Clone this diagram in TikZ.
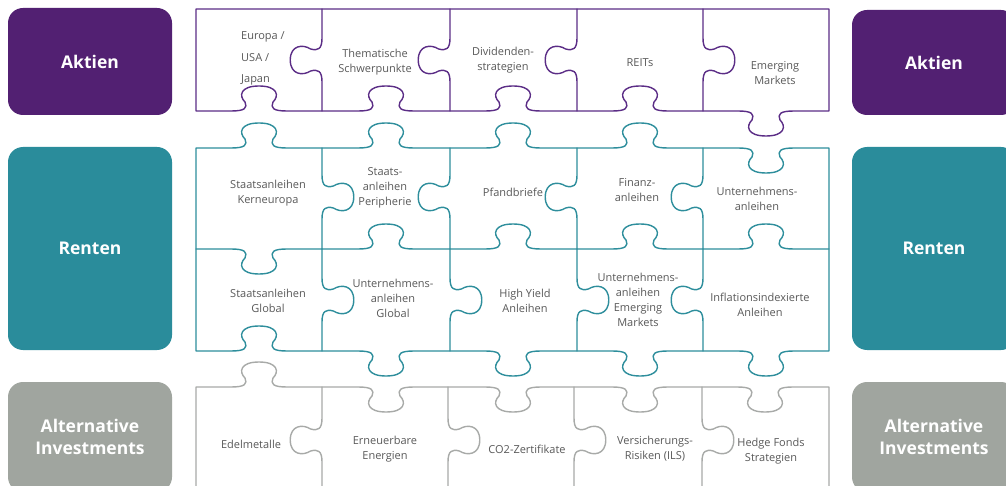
\documentclass[tikz,border=0pt]{standalone}
\usepackage{fontspec}
\setmainfont{Open Sans}
\definecolor{cAkt}{HTML}{522072}
\definecolor{cAktL}{HTML}{5B2D86}
\definecolor{cRen}{HTML}{2A8C9B}
\definecolor{cRenL}{HTML}{2E8E9C}
\definecolor{cAlt}{HTML}{A0A59F}
\definecolor{cAltL}{HTML}{A8AAA8}
\definecolor{txtgray}{HTML}{595959}
% horizontal edge with tab: cx, y, d (+1 down / -1 up), s (+1 left->right / -1 right->left)
\newcommand\HT[4]{%
 -- ({#1-28*(#4)},{#2}) .. controls ({#1-14*(#4)},{#2}) and ({#1-11.4*(#4)},{#2+3*(#3)}) .. ({#1-14*(#4)},{#2+9*(#3)})
 .. controls ({#1-20.3*(#4)},{#2+15*(#3)}) and ({#1-19*(#4)},{#2+25*(#3)}) .. ({#1},{#2+25*(#3)})
 .. controls ({#1+19*(#4)},{#2+25*(#3)}) and ({#1+20.3*(#4)},{#2+15*(#3)}) .. ({#1+14*(#4)},{#2+9*(#3)})
 .. controls ({#1+11.4*(#4)},{#2+3*(#3)}) and ({#1+14*(#4)},{#2}) .. ({#1+28*(#4)},{#2})}
% vertical edge with tab: x, cy, d (+1 right / -1 left), s (+1 downwards / -1 upwards)
\newcommand\VT[4]{%
 -- ({#1},{#2-22*(#4)}) .. controls ({#1},{#2-11*(#4)}) and ({#1+3.8*(#3)},{#2-9*(#4)}) .. ({#1+11.4*(#3)},{#2-11*(#4)})
 .. controls ({#1+19*(#3)},{#2-16*(#4)}) and ({#1+31.75*(#3)},{#2-15*(#4)}) .. ({#1+31.75*(#3)},{#2})
 .. controls ({#1+31.75*(#3)},{#2+15*(#4)}) and ({#1+19*(#3)},{#2+16*(#4)}) .. ({#1+11.4*(#3)},{#2+11*(#4)})
 .. controls ({#1+3.8*(#3)},{#2+9*(#4)}) and ({#1},{#2+11*(#4)}) .. ({#1},{#2+22*(#4)})}
\begin{document}
\begin{tikzpicture}[x=1pt,y=-1pt,
  pz/.style={line width=1.4pt,line join=round,line cap=round},
  hdr/.style={rounded corners=15pt,minimum width=164pt,inner sep=0pt,text=white,align=center,
    font=\fontsize{17.5}{22}\selectfont\bfseries},
  txt/.style={text=txtgray,align=center,inner sep=0pt,font=\fontsize{11}{15}\selectfont}]
\useasboundingbox (0,0) rectangle (1006,486);
\clip (0,0) rectangle (1006,486);
\fill[white] (0,0) rectangle (1006,486);
% category boxes
\node[hdr,fill=cAkt,minimum height=107pt] (aktL) at (90,61.5) {Aktien};
\node[hdr,fill=cRen,minimum height=203pt] (renL) at (90,248.5) {Renten};
\node[hdr,fill=cAlt,minimum height=110pt] (altL) at (90,437) {Alternative\\Investments};
\node[hdr,fill=cAkt,minimum height=105pt] (aktR) at (934,62.5) {Aktien};
\node[hdr,fill=cRen,minimum height=203pt] (renR) at (934,248.5) {Renten};
\node[hdr,fill=cAlt,minimum height=110pt] (altR) at (934,437) {Alternative\\Investments};
% Aktien row
\draw[pz,cAktL] (196,111) -- (196,9) -- (829,9) -- (829,111)
  \HT{766}{111}{1}{-1} \HT{640}{111}{-1}{-1} \HT{513}{111}{-1}{-1} \HT{386}{111}{-1}{-1} \HT{259}{111}{-1}{-1} -- cycle;
\draw[pz,cAktL] (322,9) \VT{322}{60}{-1}{1} -- (322,111);
\draw[pz,cAktL] (450,9) \VT{450}{60}{-1}{1} -- (450,111);
\draw[pz,cAktL] (577,9) \VT{577}{60}{-1}{1} -- (577,111);
\draw[pz,cAktL] (703,9) \VT{703}{60}{1}{1} -- (703,111);
% Renten rows
\draw[pz,cRenL] (196,148) \HT{259}{148}{-1}{1} \HT{386}{148}{-1}{1} \HT{513}{148}{-1}{1} \HT{640}{148}{-1}{1} \HT{766}{148}{1}{1}
  -- (829,148) -- (829,351)
  \HT{766}{351}{1}{-1} \HT{640}{351}{1}{-1} \HT{513}{351}{1}{-1} \HT{386}{351}{1}{-1} \HT{259}{351}{-1}{-1} -- (196,351) -- cycle;
\draw[pz,cRenL] (196,249) \HT{259}{249}{1}{1} \HT{386}{249}{-1}{1} \HT{513}{249}{-1}{1} \HT{640}{249}{-1}{1} \HT{766}{249}{-1}{1} -- (829,249);
\draw[pz,cRenL] (322,148) \VT{322}{197}{1}{1} -- (322,249);
\draw[pz,cRenL] (450,148) \VT{450}{197}{-1}{1} -- (450,249);
\draw[pz,cRenL] (577,148) \VT{577}{197}{-1}{1} -- (577,249);
\draw[pz,cRenL] (703,148) \VT{703}{197}{-1}{1} -- (703,249);
\draw[pz,cRenL] (322,249) \VT{322}{300}{1}{1} -- (322,351);
\draw[pz,cRenL] (450,249) \VT{450}{300}{1}{1} -- (450,351);
\draw[pz,cRenL] (577,249) \VT{577}{300}{1}{1} -- (577,351);
\draw[pz,cRenL] (703,249) \VT{703}{300}{-1}{1} -- (703,351);
% Alternative row
\draw[pz,cAltL] (196,495) -- (196,387) \HT{259}{387}{-1}{1} \HT{386}{387}{1}{1} \HT{513}{387}{1}{1} \HT{640}{387}{1}{1} \HT{765}{387}{1}{1}
  -- (829,387) -- (829,495);
\draw[pz,cAltL] (322,387) \VT{322}{440}{-1}{1} -- (322,495);
\draw[pz,cAltL] (448,387) \VT{448}{440}{1}{1} -- (448,495);
\draw[pz,cAltL] (574,387) \VT{574}{440}{1}{1} -- (574,495);
\draw[pz,cAltL] (702,387) \VT{702}{440}{1}{1} -- (702,495);
% texts
\node[txt,align=left,anchor=west,font=\fontsize{11}{21.5}\selectfont] (t11) at (241,58.5) {Europa /\\USA /\\Japan};
\node[txt] (t12) at (375,62) {Thematische\\Schwerpunkte};
\node[txt] (t13) at (503,60) {Dividenden-\\strategien};
\node[txt] (t14) at (640,63) {REITs};
\node[txt] (t15) at (775,73) {Emerging\\Markets};
\node[txt] (t21) at (268,193) {Staatsanleihen\\Kerneuropa};
\node[txt] (t22) at (385,188) {Staats-\\anleihen\\Peripherie};
\node[txt] (t23) at (513,192) {Pfandbriefe};
\node[txt] (t24) at (637,190) {Finanz-\\anleihen};
\node[txt] (t25) at (757,199) {Unternehmens-\\anleihen};
\node[txt] (t31) at (268,301) {Staatsanleihen\\Global};
\node[txt] (t32) at (393,298) {Unternehmens-\\anleihen\\Global};
\node[txt] (t33) at (525,301) {High Yield\\Anleihen};
\node[txt] (t34) at (638,300) {Unternehmens-\\anleihen\\Emerging\\Markets};
\node[txt] (t35) at (760,305) {Inflationsindexierte\\Anleihen};
\node[txt] (t41) at (251,444) {Edelmetalle};
\node[txt] (t42) at (385,449) {Erneuerbare\\Energien};
\node[txt] (t43) at (527,449) {CO2-Zertifikate};
\node[txt] (t44) at (655,449) {Versicherungs-\\Risiken (ILS)};
\node[txt] (t45) at (771,451) {Hedge Fonds\\Strategien};
\end{tikzpicture}
\end{document}
